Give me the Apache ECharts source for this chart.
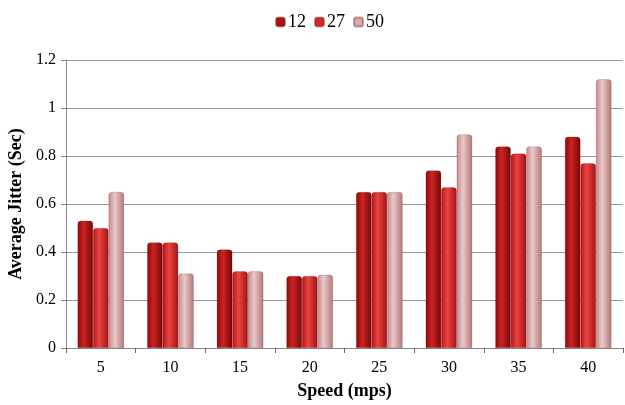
<!DOCTYPE html>
<html><head><meta charset="utf-8">
<script src="https://cdn.jsdelivr.net/npm/echarts@6/dist/echarts.min.js"></script>
<style>html,body{margin:0;padding:0;background:#fff}#c{width:625px;height:405px}</style>
</head><body><div id="c"></div>
<script>
const categories = ['5','10','15','20','25','30','35','40'];
const s12 = [0.53,0.44,0.41,0.30,0.65,0.74,0.84,0.88];
const s27 = [0.50,0.44,0.32,0.30,0.65,0.67,0.81,0.77];
const s50 = [0.65,0.31,0.32,0.305,0.65,0.89,0.84,1.12];
const yTicks = [0,0.2,0.4,0.6,0.8,1,1.2];

function grad(a,b,c){
  return new echarts.graphic.LinearGradient(0,0,1,0,[{offset:0,color:a},{offset:0.4,color:b},{offset:1,color:c}]);
}
const font = '"Liberation Serif","DejaVu Serif",serif';
const chart = echarts.init(document.getElementById('c'));
function ser(name,data,g){
  return {name,type:'bar',data,barWidth:15.5,barGap:'0%',
    itemStyle:{color:g,borderColor:'rgba(90,0,0,0.35)',borderWidth:0.5,borderRadius:[3,3,0,0]},
    emphasis:{disabled:true}};
}
chart.setOption({
  animation:false,
  legend:{top:8,left:270,itemWidth:9,itemHeight:9,itemGap:8,
    textStyle:{fontFamily:font,fontSize:18,color:'#000',padding:[0,0,0,-2]},
    data:[{name:'12',itemStyle:{color:'#b01010'}},{name:'27',itemStyle:{color:'#d42a2a'}},{name:'50',itemStyle:{color:'#d8aaaa'}}]},
  grid:{left:66,right:2,top:60,bottom:57,containLabel:false,outerBoundsMode:'none'},
  xAxis:{type:'category',data:categories,
    name:'Speed (mps)',nameLocation:'middle',nameGap:34,
    nameTextStyle:{fontFamily:font,fontSize:18,fontWeight:'bold',color:'#000'},
    axisLine:{lineStyle:{color:'#888'}},
    axisTick:{show:true,lineStyle:{color:'#666'},length:5},
    axisLabel:{fontFamily:font,fontSize:16,color:'#000',margin:12}},
  yAxis:{type:'value',min:0,max:1.2,interval:0.2,
    name:'Average Jitter (Sec)',nameLocation:'middle',nameGap:33,
    nameTextStyle:{fontFamily:font,fontSize:18,fontWeight:'bold',color:'#000'},
    axisLine:{show:true,lineStyle:{color:'#888'}},
    axisTick:{show:true,length:5,lineStyle:{color:'#888'}},
    splitLine:{lineStyle:{color:'#999'}},
    axisLabel:{fontFamily:font,fontSize:16,color:'#000',margin:10,
      formatter:v=>{const t=yTicks.find(x=>Math.abs(x-v)<1e-9);return String(t!==undefined?t:v);}}},
  series:[
    ser('12',s12,grad('#8a0808','#cc2424','#780606')),
    ser('27',s27,grad('#b81414','#e84444','#a81010')),
    ser('50',s50,grad('#c08888','#ecc8c8','#b07878'))
  ]
});
</script></body></html>
